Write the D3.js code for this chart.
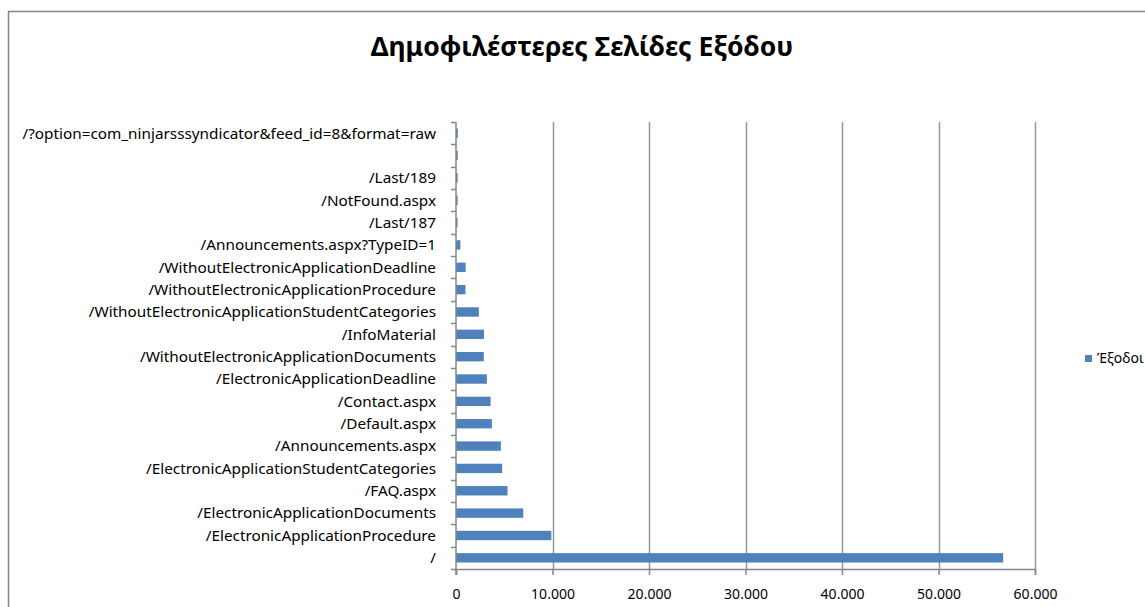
<!DOCTYPE html>
<html>
<head>
<meta charset="utf-8">
<script src="https://cdn.jsdelivr.net/npm/d3@7"></script>
<style>
  body { margin: 0; background: #fff; }
  text { font-family: "Noto Sans", "Open Sans", sans-serif; fill: #000; }
</style>
</head>
<body>
<div class="svg_container"></div>
<script>
// chart data
var title = "Δημοφιλέστερες Σελίδες Εξόδου";
var seriesName = "Έξοδοι";

// top to bottom, as drawn
var pages = [
  "/?option=com_ninjarsssyndicator&feed_id=8&format=raw",
  "",
  "/Last/189",
  "/NotFound.aspx",
  "/Last/187",
  "/Announcements.aspx?TypeID=1",
  "/WithoutElectronicApplicationDeadline",
  "/WithoutElectronicApplicationProcedure",
  "/WithoutElectronicApplicationStudentCategories",
  "/InfoMaterial",
  "/WithoutElectronicApplicationDocuments",
  "/ElectronicApplicationDeadline",
  "/Contact.aspx",
  "/Default.aspx",
  "/Announcements.aspx",
  "/ElectronicApplicationStudentCategories",
  "/FAQ.aspx",
  "/ElectronicApplicationDocuments",
  "/ElectronicApplicationProcedure",
  "/"
];

var exits = [
  190, 180, 170, 165, 160, 450, 1000, 980, 2370, 2900,
  2880, 3200, 3580, 3720, 4650, 4790, 5340, 6970, 9880, 56700
];

var xTicks = [0, 10000, 20000, 30000, 40000, 50000, 60000];

var W = 1145, H = 607;
var margin = {top: 122, left: 456, right: 110, bottom: 38};
var width = W - margin.left - margin.right;   // ends near 1035
var height = H - margin.top - margin.bottom;   // ends near 569

var grLocale = d3.formatLocale({decimal: ",", thousands: ".", grouping: [3], currency: ["", "€"]});
var fmt = grLocale.format(",d");

var svg = d3.select(".svg_container").append("svg")
    .attr("width", W)
    .attr("height", H);

// outer chart border
svg.append("rect")
    .attr("x", 8.5).attr("y", 11.5)
    .attr("width", W + 20).attr("height", H + 20)
    .attr("fill", "none")
    .attr("stroke", "#868686")
    .attr("stroke-width", 1.5);

svg.append("text")
    .attr("x", 582)
    .attr("y", 56)
    .attr("text-anchor", "middle")
    .attr("font-size", 26.5)
    .attr("font-weight", "bold")
    .text(title);

var g = svg.append("g")
    .attr("transform", "translate(" + margin.left + "," + margin.top + ")");

var idx = d3.range(pages.length);

var xScale = d3.scaleLinear()
    .domain([0, 60000])
    .range([0, width]);

var yScale = d3.scaleBand()
    .domain(idx)
    .range([0, height]);

// gridlines
g.selectAll(".grid")
    .data(xTicks.slice(1))
    .enter().append("line")
    .attr("class", "grid")
    .attr("x1", function(d) { return Math.round(xScale(d)) + 0.5; })
    .attr("x2", function(d) { return Math.round(xScale(d)) + 0.5; })
    .attr("y1", 0)
    .attr("y2", height)
    .attr("stroke", "#999")
    .attr("stroke-width", 1.5);

// bars
var barH = yScale.bandwidth() * 0.42;
g.selectAll(".bar")
    .data(idx)
    .enter().append("rect")
    .attr("class", "bar")
    .attr("x", 0)
    .attr("y", function(i) { return yScale(i) + (yScale.bandwidth() - barH) / 2; })
    .attr("width", function(i) { return xScale(exits[i]); })
    .attr("height", barH)
    .attr("fill", "#4f81bd");

// x axis
var xAxis = g.append("g")
    .attr("transform", "translate(0," + height + ")")
    .call(d3.axisBottom(xScale).tickValues(xTicks).tickFormat(fmt).tickSizeOuter(0).tickSize(6).tickPadding(14));
xAxis.selectAll("line, path").attr("stroke", "#868686").attr("stroke-width", 1.5);
xAxis.selectAll("text").attr("font-size", 14).attr("font-family", "\"Noto Sans\", sans-serif");

// y axis: ticks at category boundaries
var yAxis = g.append("g");
yAxis.append("line")
    .attr("x1", 0).attr("x2", 0)
    .attr("y1", 0).attr("y2", height + 6)
    .attr("stroke", "#868686").attr("stroke-width", 1.5);
yAxis.selectAll(".ytick")
    .data(d3.range(pages.length + 1))
    .enter().append("line")
    .attr("x1", -5).attr("x2", 0)
    .attr("y1", function(i) { return Math.round(i * yScale.step()) + 0.5; })
    .attr("y2", function(i) { return Math.round(i * yScale.step()) + 0.5; })
    .attr("stroke", "#868686").attr("stroke-width", 1.5);
yAxis.selectAll(".ylab")
    .data(idx)
    .enter().append("text")
    .attr("x", -20)
    .attr("y", function(i) { return yScale(i) + yScale.bandwidth() / 2; })
    .attr("dy", "0.35em")
    .attr("text-anchor", "end")
    .attr("font-size", 15.3)
    .text(function(i) { return pages[i]; });

// legend
svg.append("rect")
    .attr("x", 1085).attr("y", 355)
    .attr("width", 7).attr("height", 7)
    .attr("fill", "#4f81bd");
svg.append("text")
    .attr("x", 1097).attr("y", 363)
    .attr("font-size", 14)
    .text(seriesName);
</script>
</body>
</html>
